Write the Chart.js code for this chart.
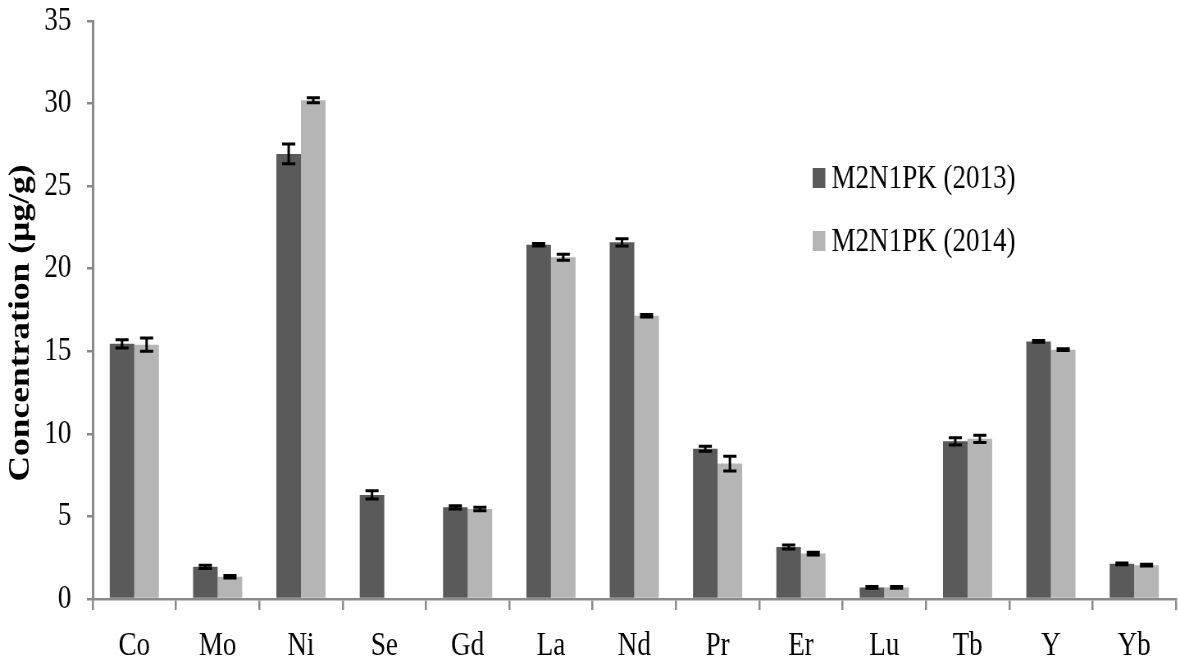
<!DOCTYPE html>
<html>
<head>
<meta charset="utf-8">
<title>Element concentration, M2N1PK 2013 vs 2014</title>
<script src="https://cdn.jsdelivr.net/npm/chart.js@4/dist/chart.umd.min.js"></script>
<style>
  html, body { margin: 0; padding: 0; background: #fff; overflow: hidden; }
  /* The figure uses narrow, tall lettering: draw wide, then squeeze horizontally */
  #wrap { width: 1437px; height: 662px; transform: scaleX(0.82); transform-origin: 0 0; }
</style>
</head>
<body>
<div id="wrap"><canvas id="chart"></canvas></div>
<script>
// Elements measured
const categories = ['Co', 'Mo', 'Ni', 'Se', 'Gd', 'La', 'Nd', 'Pr', 'Er', 'Lu', 'Tb', 'Y', 'Yb'];

// Mean concentration (µg/g) and standard error for each season
const values2013 = [15.45, 1.95, 26.95, 6.3, 5.55, 21.45, 21.6, 9.1, 3.15, 0.7, 9.55, 15.6, 2.13];
const errors2013 = [0.25, 0.1, 0.6, 0.25, 0.1, 0.08, 0.22, 0.15, 0.12, 0.05, 0.22, 0.05, 0.05];
const values2014 = [15.4, 1.35, 30.2, null, 5.45, 20.7, 17.15, 8.2, 2.75, 0.7, 9.7, 15.1, 2.05];
const errors2014 = [0.4, 0.08, 0.15, null, 0.1, 0.18, 0.08, 0.45, 0.08, 0.05, 0.22, 0.05, 0.05];

const seriesLabels = ['M2N1PK (2013)', 'M2N1PK (2014)'];
const yAxisTitle = 'Concentration (µg/g)';
const yMin = 0, yMax = 35, yStep = 5;

const SERIF = '"Liberation Serif", "Times New Roman", serif';
const AXIS_GREY = '#8a8a8a';

// Draws mean ± error whiskers with caps on top of each bar
const errorBars = {
  id: 'errorBars',
  afterDatasetsDraw(chart, args, opts) {
    const ctx = chart.ctx;
    const yScale = chart.scales.y;
    ctx.save();
    ctx.strokeStyle = opts.color;
    ctx.lineWidth = opts.lineWidth;
    chart.data.datasets.forEach((ds, di) => {
      const meta = chart.getDatasetMeta(di);
      ds.errors.forEach((e, i) => {
        const v = ds.data[i];
        if (v == null || e == null) return;
        const bar = meta.data[i];
        const x = bar.x;
        const yTop = yScale.getPixelForValue(v + e);
        const yBot = yScale.getPixelForValue(v - e);
        const h = opts.capWidth / 2;
        ctx.beginPath();
        ctx.moveTo(x, yTop); ctx.lineTo(x, yBot);
        ctx.moveTo(x - h, yTop); ctx.lineTo(x + h, yTop);
        ctx.moveTo(x - h, yBot); ctx.lineTo(x + h, yBot);
        ctx.stroke();
      });
    });
    ctx.restore();
  }
};

// Legend placed inside the plot, to the right of the Nd/Pr group
const insideLegend = {
  id: 'insideLegend',
  afterDraw(chart, args, opts) {
    const ctx = chart.ctx;
    ctx.save();
    ctx.font = opts.font;
    ctx.textBaseline = 'alphabetic';
    ctx.textAlign = 'left';
    chart.data.datasets.forEach((ds, i) => {
      const base = opts.y + i * opts.rowGap;
      ctx.fillStyle = ds.backgroundColor;
      ctx.fillRect(opts.x, base - opts.boxH, opts.boxW, opts.boxH);
      ctx.fillStyle = '#000';
      ctx.fillText(ds.label, opts.x + opts.textOffset, base);
    });
    ctx.restore();
  }
};

// Rotated y-axis title in the left margin
const sideTitle = {
  id: 'sideTitle',
  afterDraw(chart, args, opts) {
    const ctx = chart.ctx;
    ctx.save();
    ctx.translate(opts.x, opts.y);
    ctx.rotate(-Math.PI / 2);
    ctx.font = opts.font;
    ctx.fillStyle = '#000';
    ctx.textAlign = 'center';
    ctx.textBaseline = 'middle';
    ctx.fillText(opts.text, 0, 0);
    ctx.restore();
  }
};

new Chart(document.getElementById('chart'), {
  type: 'bar',
  data: {
    labels: categories,
    datasets: [
      { label: seriesLabels[0], data: values2013, errors: errors2013, backgroundColor: '#5a5a5a' },
      { label: seriesLabels[1], data: values2014, errors: errors2014, backgroundColor: '#b5b5b5' }
    ]
  },
  options: {
    responsive: true,
    maintainAspectRatio: false,
    animation: false,
    devicePixelRatio: 1,
    layout: { padding: { top: 4, right: 3, bottom: 0, left: 35 } },
    datasets: { bar: { categoryPercentage: 0.59, barPercentage: 1.0 } },
    plugins: {
      legend: { display: false },
      tooltip: { enabled: false },
      errorBars: { color: '#000', lineWidth: 3, capWidth: 16 },
      insideLegend: { x: 991, y: 188, rowGap: 63, boxW: 15.5, boxH: 20, textOffset: 23,
                      font: '33px ' + SERIF },
      sideTitle: { text: yAxisTitle, x: 26, y: 323, font: 'bold 35.5px ' + SERIF }
    },
    scales: {
      x: {
        grid: { display: true, drawOnChartArea: false, offset: true, color: AXIS_GREY,
                lineWidth: 2.5, tickLength: 11 },
        border: { display: true, color: AXIS_GREY, width: 2.5 },
        ticks: { color: '#000', font: { family: SERIF, size: 33 }, padding: 16.5, maxRotation: 0 },
        // band below the plot holding tick marks and element names
        afterFit(axis) { axis.height = 63; }
      },
      y: {
        min: yMin, max: yMax,
        grid: { display: true, drawOnChartArea: false, color: AXIS_GREY, lineWidth: 2.5, tickLength: 7 },
        border: { display: true, color: AXIS_GREY, width: 3 },
        ticks: { stepSize: yStep, color: '#000', font: { family: SERIF, size: 33 }, padding: 19 },
        // top label only needs half its height above the plot
        afterFit(axis) { axis.paddingTop = 21; }
      }
    }
  },
  plugins: [errorBars, insideLegend, sideTitle]
});
</script>
</body>
</html>
